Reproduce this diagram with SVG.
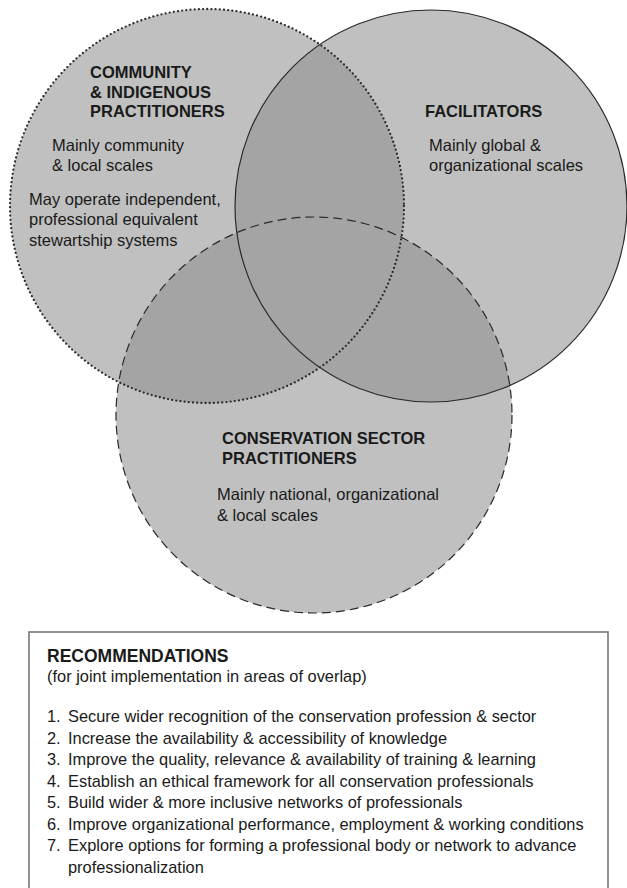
<svg xmlns="http://www.w3.org/2000/svg" width="627" height="888" viewBox="0 0 627 888">
<style>
text{font-family:"Liberation Sans",Arial,sans-serif;fill:#1a1a1a}
.h{font-size:16.5px;font-weight:bold}
.r{font-size:17.5px;font-weight:bold}
.b{font-size:16.5px}
.l{font-size:16.4px}
.fill{fill:#c0c0c0;stroke:none}
.ov{fill:#a4a4a4;stroke:none}
.edge{fill:none;stroke:#2a2a2a}
</style>
<defs>
<clipPath id="cA"><circle cx="207" cy="206" r="197"/></clipPath>
<clipPath id="cB"><circle cx="431" cy="206" r="196"/></clipPath>
</defs>
<rect width="627" height="888" fill="#fff"/>
<g id="fills">
<circle class="fill" cx="207" cy="206" r="197"/>
<circle class="fill" cx="431" cy="206" r="196"/>
<circle class="fill" cx="314" cy="415" r="198"/>
<circle class="ov" cx="431" cy="206" r="196" clip-path="url(#cA)"/>
<circle class="ov" cx="314" cy="415" r="198" clip-path="url(#cA)"/>
<circle class="ov" cx="314" cy="415" r="198" clip-path="url(#cB)"/>
</g>
<g id="community">
<circle class="edge" cx="207" cy="206" r="197" stroke-width="2.3" stroke-dasharray="0 4.2" stroke-linecap="round"/>
<text class="h" x="90" y="78">COMMUNITY</text>
<text class="h" x="90" y="97.5">&amp; INDIGENOUS</text>
<text class="h" x="90" y="117">PRACTITIONERS</text>
<text class="b" x="52" y="150.5">Mainly community</text>
<text class="b" x="52" y="171">&amp; local scales</text>
<text class="b" x="29" y="204.5">May operate independent,</text>
<text class="b" x="29" y="225">professional equivalent</text>
<text class="b" x="29" y="245.5">stewartship systems</text>
</g>
<g id="facilitators">
<circle class="edge" cx="431" cy="206" r="196" stroke-width="1.2"/>
<text class="h" x="425" y="117">FACILITATORS</text>
<text class="b" x="429" y="150.5">Mainly global &amp;</text>
<text class="b" x="429" y="171">organizational scales</text>
</g>
<g id="conservation">
<circle class="edge" cx="314" cy="415" r="198" stroke-width="1.2" stroke-dasharray="9 5"/>
<text class="h" x="222" y="444">CONSERVATION SECTOR</text>
<text class="h" x="222" y="464">PRACTITIONERS</text>
<text class="b" x="217" y="500">Mainly national, organizational</text>
<text class="b" x="217" y="520.5">&amp; local scales</text>
</g>
<g id="recommendations">
<rect x="29" y="632" width="579" height="262" fill="#fff" stroke="#777" stroke-width="1.6"/>
<text class="r" x="47" y="661.5">RECOMMENDATIONS</text>
<text class="l" x="47" y="682">(for joint implementation in areas of overlap)</text>
<text class="l" x="47" y="722">1.</text><text class="l" x="68" y="722">Secure wider recognition of the conservation profession &amp; sector</text>
<text class="l" x="47" y="743.5">2.</text><text class="l" x="68" y="743.5">Increase the availability &amp; accessibility of knowledge</text>
<text class="l" x="47" y="765">3.</text><text class="l" x="68" y="765">Improve the quality, relevance &amp; availability of training &amp; learning</text>
<text class="l" x="47" y="786.5">4.</text><text class="l" x="68" y="786.5">Establish an ethical framework for all conservation professionals</text>
<text class="l" x="47" y="808">5.</text><text class="l" x="68" y="808">Build wider &amp; more inclusive networks of professionals</text>
<text class="l" x="47" y="829.5">6.</text><text class="l" x="68" y="829.5">Improve organizational performance, employment &amp; working conditions</text>
<text class="l" x="47" y="851">7.</text><text class="l" x="68" y="851">Explore options for forming a professional body or network to advance</text>
<text class="l" x="68" y="872.5">professionalization</text>
</g>
</svg>
